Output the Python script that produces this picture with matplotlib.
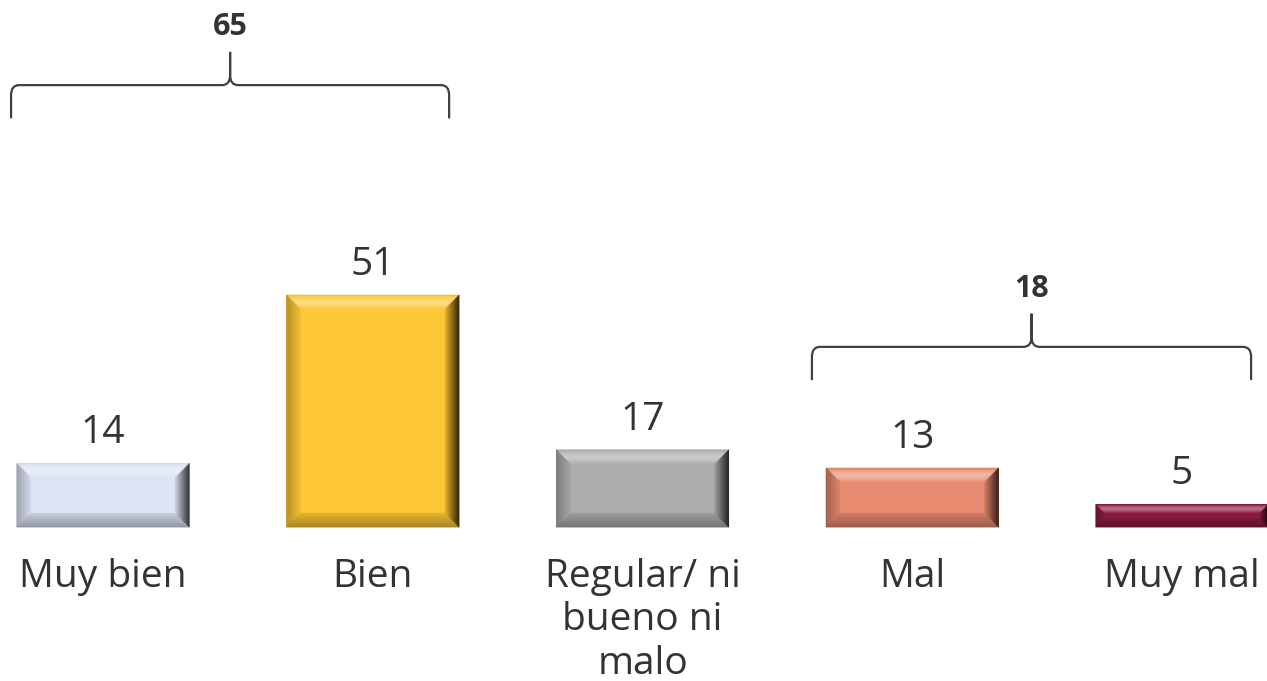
import matplotlib.pyplot as plt
import numpy as np
from matplotlib.path import Path
from matplotlib.patches import PathPatch, Polygon
from matplotlib.colors import to_rgb

# data
categories = ["Muy bien", "Bien", "Regular/ ni\nbueno ni\nmalo", "Mal", "Muy mal"]
values = [14, 51, 17, 13, 5]
colors = ["#DCE3F5", "#FDC735", "#ADADAD", "#E88A70", "#8B1A3E"]

group_labels = ["65", "18"]
group_ranges = [(0, 1), (3, 4)]

plt.rcParams['font.family'] = ['Open Sans', 'DejaVu Sans']
txt = "#333333"

fig = plt.figure(figsize=(12.67, 6.81), dpi=100)
ax = fig.add_axes([0, 0, 1, 1])
ax.set_xlim(-0.382, 4.315)
ax.set_ylim(-33.8, 115.8)
ax.axis("off")

x = np.arange(len(values))
width = 0.64
bars = ax.bar(x, values, width=width, color=colors, zorder=2)


def shade(c, f):
    r, g, b = to_rgb(c)
    if f >= 0:
        return (r + (1 - r) * f, g + (1 - g) * f, b + (1 - b) * f)
    return (r * (1 + f), g * (1 + f), b * (1 + f))


# bevel look on each bar
px_x = 1 / 269.75
px_y = 1 / 4.55
for b, c in zip(bars, colors):
    x0, y0 = b.get_x(), b.get_y()
    w, h = b.get_width(), b.get_height()
    x1, y1 = x0 + w, y0 + h
    bp = min(14, h / px_y * 0.38)
    bx, by = bp * px_x, bp * px_y
    n = 14
    for k in range(n):
        t0, t1 = k / n, (k + 1) / n
        ox0, ox1 = x0 + bx * t0, x1 - bx * t0
        oy0, oy1 = y0 + by * t0, y1 - by * t0
        jx0, jx1 = x0 + bx * t1, x1 - bx * t1
        jy0, jy1 = y0 + by * t1, y1 - by * t1
        top = [(ox0, oy1), (ox1, oy1), (jx1, jy1), (jx0, jy1)]
        bot = [(ox0, oy0), (ox1, oy0), (jx1, jy0), (jx0, jy0)]
        lft = [(ox0, oy0), (ox0, oy1), (jx0, jy1), (jx0, jy0)]
        rgt = [(ox1, oy0), (ox1, oy1), (jx1, jy1), (jx1, jy0)]
        mid = (k + 0.5) / n
        ftop = 0.05 + 0.4 * np.sin(np.pi * mid) - 0.15 * (1 - mid)
        fbot = -0.35 + 0.25 * mid
        flft = -0.3 + 0.25 * mid
        frgt = -0.85 + 0.75 * mid
        for poly, f in [(top, ftop), (bot, fbot), (lft, flft), (rgt, frgt)]:
            ax.add_patch(Polygon(poly, closed=True, facecolor=shade(c, f),
                                 edgecolor=shade(c, f), lw=0.3, zorder=3))

# value labels
for xi, v in zip(x, values):
    ax.text(xi, v + 4.4, str(v), ha="center", va="baseline", fontsize=28, color=txt)

# category labels
for xi, cat in zip(x, categories):
    ax.text(xi, -6.8, cat, ha="center", va="top", fontsize=28, color=txt,
            linespacing=1.18)


def brace(ax, xl, xr, yh, d):
    xm = (xl + xr) / 2
    r = 0.03
    verts = [(xl, yh - d), (xl, yh - d * 0.3), (xl, yh), (xl + r, yh),
             (xm - r, yh), (xm, yh), (xm, yh + d * 0.3), (xm, yh + d),
             (xm, yh + d * 0.3), (xm, yh), (xm + r, yh),
             (xr - r, yh), (xr, yh), (xr, yh - d * 0.3), (xr, yh - d)]
    codes = [Path.MOVETO, Path.LINETO, Path.CURVE3, Path.CURVE3,
             Path.LINETO, Path.CURVE3, Path.CURVE3, Path.LINETO,
             Path.LINETO, Path.CURVE3, Path.CURVE3,
             Path.LINETO, Path.CURVE3, Path.CURVE3, Path.LINETO]
    ax.add_patch(PathPatch(Path(verts, codes), facecolor="none",
                           edgecolor="#404040", lw=1.6, zorder=4))


brace_y = [97.1, 39.6]
brace_pad = [(-0.341, 0.283), (-0.372, 0.256)]
for (a, b2), lab, yh, (pl, pr) in zip(group_ranges, group_labels, brace_y, brace_pad):
    xl = a + pl
    xr = b2 + pr
    brace(ax, xl, xr, yh, 7.3)
    ax.text((xl + xr) / 2, yh + 11.0, lab, ha="center", va="baseline",
            fontsize=22, fontweight="bold", color=txt)

fig.savefig("out.png", dpi=100)
